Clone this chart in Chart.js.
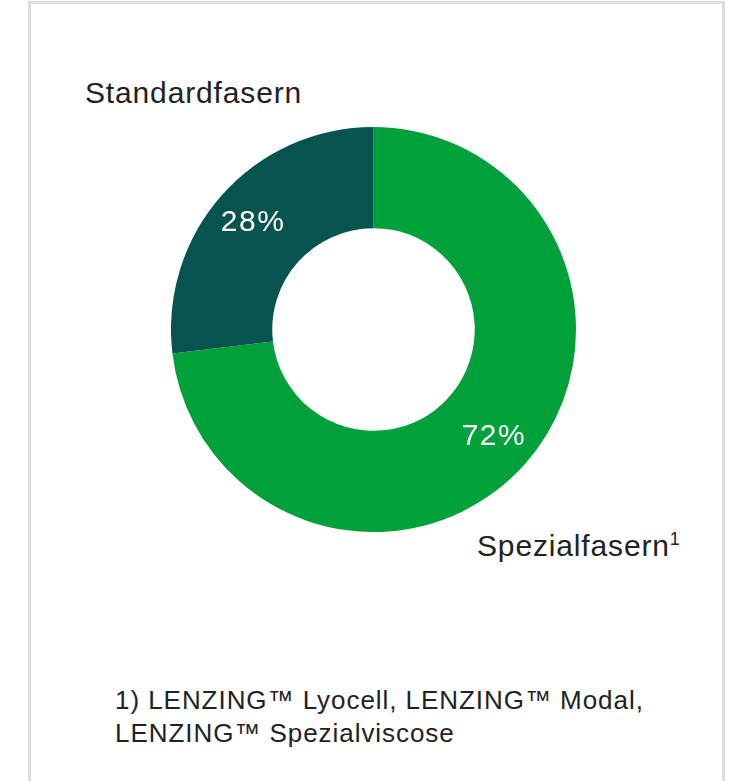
<!DOCTYPE html>
<html>
<head>
<meta charset="utf-8">
<script src="https://cdn.jsdelivr.net/npm/chart.js@4.4.1/dist/chart.umd.min.js"></script>
<style>
  html, body { margin: 0; padding: 0; background: #fff; }
  body { width: 731px; height: 781px; position: relative; overflow: hidden;
         font-family: "Liberation Sans", Arial, sans-serif; color: #222; }
  #frame { position: absolute; left: 28px; top: 1px; width: 691px; height: 800px;
           border: 3px solid #dedede; border-bottom: none; }
  #chartBox { position: absolute; left: 171px; top: 127px; width: 405px; height: 405px; }
  .cat { position: absolute; font-size: 30px; line-height: 30px; white-space: nowrap; letter-spacing: 0.85px; }
  .cat sup { font-size: 18px; vertical-align: 0; position: relative; top: -11px; letter-spacing: 0; }
  #note { position: absolute; left: 115px; top: 684px; font-size: 26px; line-height: 33px;
          letter-spacing: 0.95px; white-space: nowrap; }
</style>
</head>
<body>
<div id="frame"></div>
<div class="cat" id="lblStd" style="left:85px; top:78px;"></div>
<div class="cat" id="lblSpz" style="left:477px; top:531px;"></div>
<div id="chartBox"><canvas id="donut"></canvas></div>
<div id="note">1) LENZING™ Lyocell, LENZING™ Modal,<br>LENZING™ Spezialviscose</div>

<script>
// chart data
const categories = ["Spezialfasern", "Standardfasern"];
const shares = [73.1, 26.9];          // share of the ring
const shareLabels = ["72%", "28%"];   // printed labels
const colors = ["#00a13a", "#06534f"];

document.getElementById("lblStd").textContent = categories[1];
document.getElementById("lblSpz").innerHTML = categories[0] + "<sup>1</sup>";

// draws the percentage text inside each slice
const sliceLabels = {
  id: "sliceLabels",
  afterDatasetsDraw(chart) {
    const ctx = chart.ctx;
    const meta = chart.getDatasetMeta(0);
    ctx.save();
    ctx.fillStyle = "#ffffff";
    ctx.font = "30px 'Liberation Sans', Arial, sans-serif";
    ctx.letterSpacing = "1.5px";
    ctx.textAlign = "center";
    ctx.textBaseline = "middle";
    meta.data.forEach((arc, i) => {
      const p = arc.getProps(["x", "y", "startAngle", "endAngle", "innerRadius", "outerRadius"], true);
      const mid = (p.startAngle + p.endAngle) / 2;
      const r = p.innerRadius + (p.outerRadius - p.innerRadius) * 0.59;
      ctx.fillText(shareLabels[i], p.x + Math.cos(mid) * r, p.y + Math.sin(mid) * r);
    });
    ctx.restore();
  }
};

new Chart(document.getElementById("donut").getContext("2d"), {
  type: "doughnut",
  data: {
    labels: categories,
    datasets: [{
      data: shares,
      backgroundColor: colors,
      borderWidth: 0
    }]
  },
  options: {
    responsive: true,
    maintainAspectRatio: false,
    animation: false,
    cutout: "50%",
    rotation: 0,
    layout: { padding: 0 },
    plugins: {
      legend: { display: false },
      tooltip: { enabled: false }
    }
  },
  plugins: [sliceLabels]
});
</script>
</body>
</html>
